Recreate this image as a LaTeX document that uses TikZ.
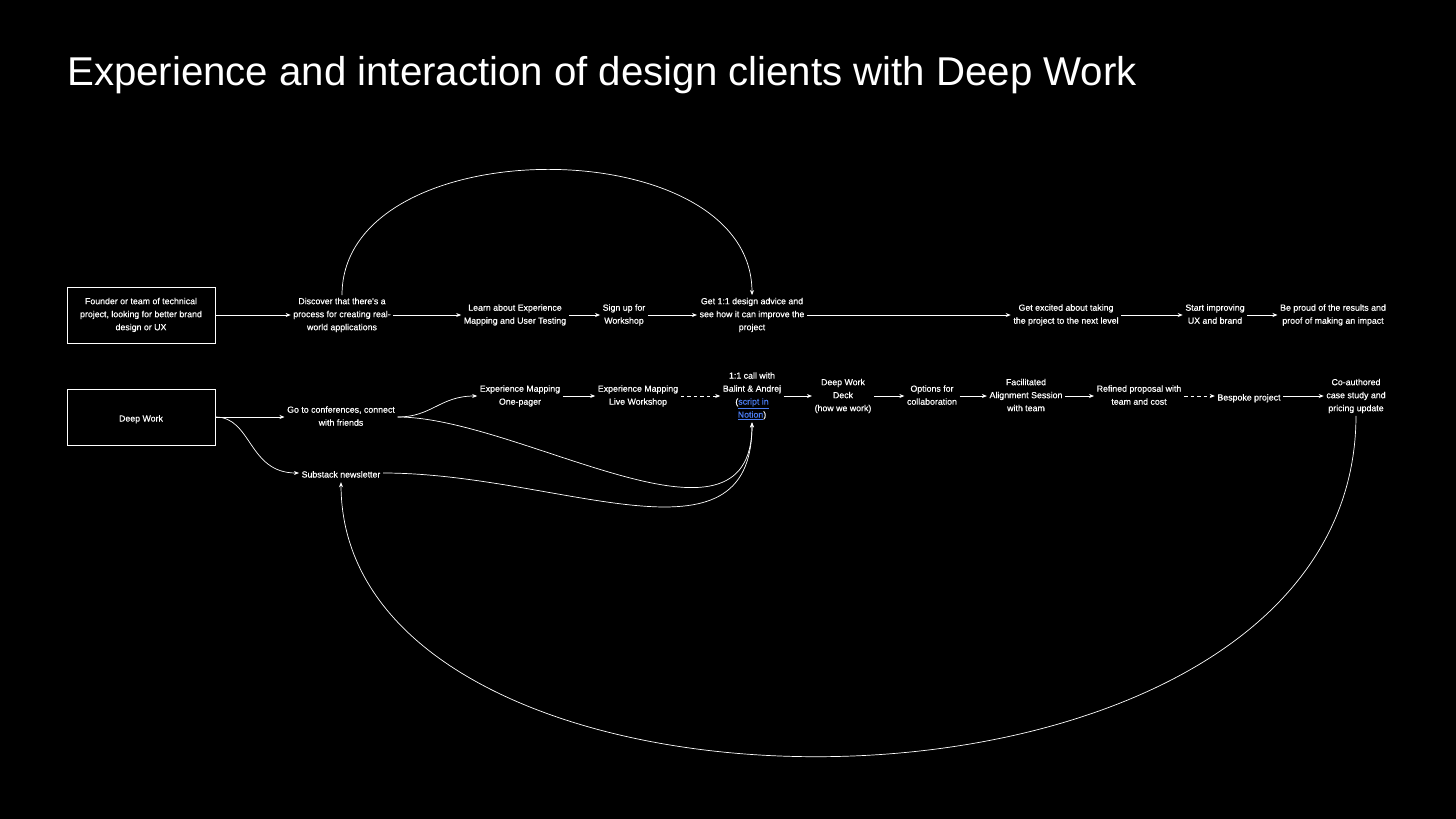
\documentclass[tikz,border=0pt]{standalone}
\usepackage{fontspec}
\setmainfont{Liberation Sans}
\newfontfamily\lblfont{Liberation Sans}[FakeBold=0.5]
\usetikzlibrary{arrows.meta}
\definecolor{linkblue}{HTML}{4A7CF0}
\newcommand\topstrut{\rule{0pt}{11pt}}
\newcommand\botstrut{\rule[-2pt]{0pt}{2pt}}
\begin{document}
\begin{tikzpicture}[x=1pt,y=-1pt,
  lbl/.style={text=white, font=\lblfont\fontsize{8.8}{13}\selectfont, align=center, inner sep=2.5pt,
    execute at begin node=\topstrut, execute at end node=\botstrut},
  framed/.style={lbl, draw=white, line width=0.8pt, minimum width=148pt, minimum height=56pt, inner sep=0pt},
  conn/.style={draw=white, line width=0.7pt, -{Stealth[length=5pt,width=4pt]}},
  dconn/.style={conn, dash pattern=on 3.5pt off 3pt}]
\fill[black] (0,0) rectangle (1456,819);
\useasboundingbox (0,0) rectangle (1456,819);

\node[anchor=base west, text=white, inner sep=0pt, font=\fontsize{40.2}{42}\selectfont] (title) at (67,85) {Experience and interaction of design clients with Deep Work};

% Row 1
\node[framed] (founder) at (141,315) {Founder or team of technical\\project, looking for better brand\\design or UX};
\node[lbl] (discover) at (342,315) {Discover that there's a\\process for creating real-\\world applications};
\node[lbl] (learn) at (515,315) {Learn about Experience\\Mapping and User Testing};
\node[lbl] (signup) at (624,315) {Sign up for\\Workshop};
\node[lbl] (advice) at (752,315) {Get 1:1 design advice and\\see how it can improve the\\project};
\node[lbl] (excited) at (1066,315) {Get excited about taking\\the project to the next level};
\node[lbl] (improve) at (1215,315) {Start improving\\UX and brand};
\node[lbl] (proud) at (1333,315) {Be proud of the results and\\proof of making an impact};

\draw[conn] (founder) -- (discover);
\draw[conn] (discover) -- (learn);
\draw[conn] (learn) -- (signup);
\draw[conn] (signup) -- (advice);
\draw[conn] (advice) -- (excited);
\draw[conn] (excited) -- (improve);
\draw[conn] (improve) -- (proud);
\draw[conn] (discover.north) .. controls (342,128) and (752,128) .. (advice.north);

% Row 2
\node[framed] (dw) at (141,417) {Deep Work};
\node[lbl] (conf) at (341,417) {Go to conferences, connect\\with friends};
\node[lbl] (substack) at (341,473) {Substack newsletter};
\node[lbl] (onepager) at (520,396) {Experience Mapping\\One-pager};
\node[lbl] (live) at (638,396) {Experience Mapping\\Live Workshop};
\node[lbl] (call) at (752,396) {1:1 call with\\Balint \& Andrej\\(\textcolor{linkblue}{\underline{script in}}\\\textcolor{linkblue}{\underline{Notion}})};
\node[lbl] (deck) at (843,396) {Deep Work\\Deck\\(how we work)};
\node[lbl] (options) at (932,396) {Options for\\collaboration};
\node[lbl] (align) at (1026,396) {Facilitated\\Alignment Session\\with team};
\node[lbl] (refined) at (1139,396) {Refined proposal with\\team and cost};
\node[lbl] (bespoke) at (1249,396) {Bespoke project};
\node[lbl] (coauth) at (1356,396) {Co-authored\\case study and\\pricing update};

\draw[conn] (dw.east) -- (conf.west |- dw.east);
\draw[conn] (dw.east) .. controls (252,417) and (248,473) .. (substack.west);
\draw[conn] (conf.east) .. controls (432,417) and (440,396) .. (onepager.west);
\draw[conn] (onepager) -- (live);
\draw[dconn] (live) -- (call);
\draw[conn] (call) -- (deck);
\draw[conn] (deck) -- (options);
\draw[conn] (options) -- (align);
\draw[conn] (align) -- (refined);
\draw[dconn] (refined) -- (bespoke);
\draw[conn] (bespoke) -- (coauth);
\draw[conn] (conf.east) .. controls (520,417) and (752,570) .. (call.south);
\draw[conn] (substack.east) .. controls (560,473) and (752,575) .. (call.south);
\draw[conn] (coauth.south) .. controls (1355,858) and (342,858) .. (substack.south);
\end{tikzpicture}
\end{document}
